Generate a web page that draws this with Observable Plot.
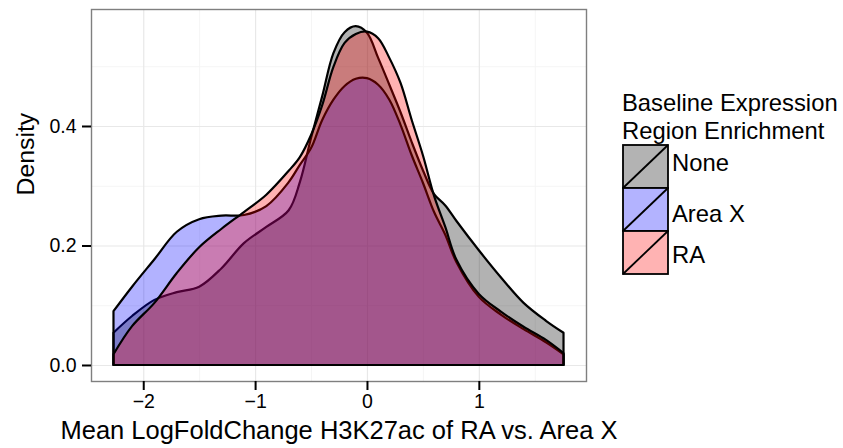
<!DOCTYPE html>
<html><head><meta charset="utf-8">
<script src="https://cdn.jsdelivr.net/npm/d3@7"></script>
<script src="https://cdn.jsdelivr.net/npm/@observablehq/plot@0.6"></script>
<style>
body{margin:0;background:#fff;font-family:"Liberation Sans",Arial,Helvetica,sans-serif;}
#wrap{position:relative;width:843px;height:448px;overflow:hidden;}
#wrap svg{position:absolute;left:0;top:0;}
</style></head><body><div id="wrap"></div>
<script>
// x positions (Mean LogFoldChange) at which the densities were read
const xGrid = [-2.266, -2.1, -1.9, -1.7, -1.5, -1.3, -1.1, -0.9, -0.7, -0.6, -0.5, -0.4, -0.3, -0.2, -0.1, 0, 0.1, 0.2, 0.3, 0.4, 0.5, 0.6, 0.7, 0.8, 1.0, 1.2, 1.4, 1.6, 1.757];
const noneDensity  = [0.054, 0.082, 0.109, 0.122, 0.131, 0.162, 0.204, 0.231, 0.259, 0.306, 0.380, 0.450, 0.522, 0.557, 0.567, 0.556, 0.514, 0.469, 0.423, 0.373, 0.326, 0.286, 0.267, 0.241, 0.192, 0.146, 0.104, 0.074, 0.054];
const areaXDensity = [0.090, 0.131, 0.177, 0.223, 0.244, 0.250, 0.251, 0.266, 0.306, 0.335, 0.363, 0.410, 0.444, 0.467, 0.479, 0.480, 0.469, 0.444, 0.402, 0.351, 0.305, 0.256, 0.218, 0.172, 0.114, 0.084, 0.060, 0.038, 0.018];
const raDensity    = [0.018, 0.065, 0.104, 0.154, 0.197, 0.228, 0.256, 0.285, 0.325, 0.348, 0.385, 0.435, 0.499, 0.539, 0.554, 0.558, 0.547, 0.514, 0.472, 0.410, 0.351, 0.283, 0.231, 0.176, 0.119, 0.089, 0.064, 0.042, 0.020];

const groups = ["None", "Area X", "RA"];
const groupColors = ["#000000", "#0000ff", "#ff0000"];
const keyFills = ["#b3b3b3", "#b3b3ff", "#ffb3b3"];
const xTicks = [-2, -1, 0, 1];
const xMinor = [-1.5, -0.5, 0.5, 1.5];
const yTicks = [0, 0.2, 0.4];
const yMinor = [0.1, 0.3, 0.5];
const xTitle = "Mean LogFoldChange H3K27ac of RA vs. Area X";
const yTitle = "Density";
const legendTitle = ["Baseline Expression", "Region Enrichment"];

const series = [noneDensity, areaXDensity, raDensity];
const rows = groups.map((g, i) => xGrid.map((x, j) => ({group: g, x, density: series[i][j]})));

const font = '"Liberation Sans", Arial, Helvetica, sans-serif';

const chart = Plot.plot({
  width: 843,
  height: 448,
  marginLeft: 91,
  marginRight: 257,
  marginTop: 9,
  marginBottom: 67,
  style: {fontFamily: font, background: "transparent", color: "#000"},
  x: {domain: [-2.467, 1.958]},
  y: {domain: [-0.0268, 0.5958]},
  marks: [
    Plot.ruleX(xMinor, {stroke: "#f5f5f5", strokeWidth: 1}),
    Plot.ruleY(yMinor, {stroke: "#f5f5f5", strokeWidth: 1}),
    Plot.ruleX(xTicks, {stroke: "#e8e8e8", strokeWidth: 1.2}),
    Plot.ruleY(yTicks, {stroke: "#e8e8e8", strokeWidth: 1.2}),
    ...rows.map((data, i) => Plot.areaY(data, {
      x: "x", y: "density",
      fill: groupColors[i], fillOpacity: 0.3,
      stroke: "#000", strokeWidth: 2.2, strokeLinejoin: "round",
      curve: "catmull-rom"
    })),
    Plot.frame({stroke: "#7f7f7f", strokeWidth: 1.4}),
    Plot.axisX({ticks: xTicks, tickFormat: d3.format("d"), tickSize: 9, tickPadding: 4, fontSize: 19.5, strokeWidth: 2, label: null, fill: "#000"}),
    Plot.axisY({ticks: yTicks, tickFormat: d3.format(".1f"), tickSize: 9, tickPadding: 6, fontSize: 19.5, strokeWidth: 2, label: null, fill: "#000"}),
    Plot.text([xTitle], {frameAnchor: "bottom", dy: 57, fontSize: 25.5, fill: "#000"}),
    Plot.text([yTitle], {frameAnchor: "left", dx: -65, rotate: -90, fontSize: 24.8, fill: "#000"})
  ]
});
document.getElementById("wrap").appendChild(chart);

// legend
const lg = d3.select("#wrap").append("svg").attr("width", 843).attr("height", 448)
  .style("font-family", font);
legendTitle.forEach((t, i) => {
  lg.append("text").attr("x", 622).attr("y", 111 + i * 28).attr("font-size", 23.8).text(t);
});
const keyX = 623, keyW = 45, keyH = 43, keyY0 = 145;
groups.forEach((g, i) => {
  const y = keyY0 + i * keyH;
  lg.append("rect").attr("x", keyX).attr("y", y).attr("width", keyW).attr("height", keyH)
    .attr("fill", keyFills[i]).attr("stroke", "#000").attr("stroke-width", 1.8);
  lg.append("line").attr("x1", keyX).attr("y1", y + keyH).attr("x2", keyX + keyW).attr("y2", y)
    .attr("stroke", "#000").attr("stroke-width", 1.8);
});
const labelY = [163, 214, 255];
groups.forEach((g, i) => {
  lg.append("text").attr("x", 672).attr("y", labelY[i]).attr("dy", "0.35em").attr("font-size", 23.8).text(g);
});
</script>
</body></html>
